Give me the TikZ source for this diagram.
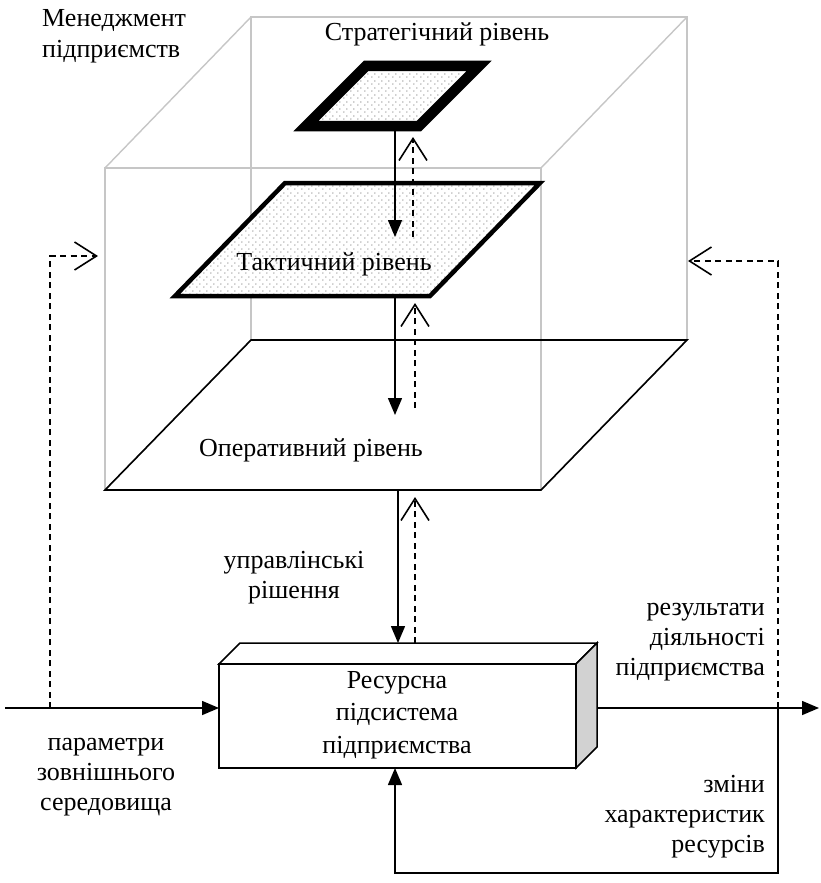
\documentclass[tikz,border=0pt]{standalone}
\usepackage{fontspec}
\setmainfont{Liberation Serif}
\usetikzlibrary{arrows.meta,patterns}
\pgfdeclarepatternformonly{refdots}{\pgfqpoint{0pt}{0pt}}{\pgfqpoint{7pt}{7pt}}{\pgfqpoint{7pt}{7pt}}{%
  \pgfpathcircle{\pgfqpoint{1pt}{1pt}}{0.85pt}%
  \pgfpathcircle{\pgfqpoint{4.5pt}{4.5pt}}{0.85pt}%
  \pgfusepath{fill}}
\begin{document}
\begin{tikzpicture}[x=1pt,y=-1pt,
  every node/.style={font=\fontsize{26}{30}\selectfont, inner sep=0pt},
  cube/.style={draw=gray!45, line width=1.4pt},
  dotted plane/.style={preaction={fill=white}, preaction={pattern=refdots, pattern color=gray!75}, draw},
  conn/.style={line width=1.5pt, -{Triangle[length=17pt,width=14pt]}},
  fb/.style={line width=1.4pt, dash pattern=on 6pt off 4.5pt, -{Straight Barb[length=22pt,width=28pt,line width=1.6pt]}},
  line/.style={line width=1.5pt}]
\useasboundingbox (0,0) rectangle (821,883);
% ---- cube (management)
\draw[cube] (251,17) rectangle (687,340);
\draw[cube] (105,168) rectangle (541,490);
\draw[cube] (105,168)--(251,17) (541,168)--(687,17) (105,490)--(251,340) (541,490)--(687,340);
% ---- operational plane
\draw[line width=1.6pt] (251,340)--(687,340)--(541,490)--(105,490)--cycle;
\draw[line width=2.8pt] (105,490)--(541,490);
% ---- tactical plane
\path[dotted plane, line width=4.5pt] (285,183)--(540,183)--(430,296)--(175,296)--cycle;
% ---- strategic plane
\path[dotted plane, line width=10.5pt] (366,66)--(479,66)--(419,126)--(306,126)--cycle;
% ---- texts
\node[anchor=base west, align=left] (mgmt) at (42,57) {Менеджмент\\підприємств};
\node[anchor=base] (strat) at (437,41) {Стратегічний рівень};
\node[anchor=base] (tact) at (334,270) {Тактичний рівень};
\node[anchor=base] (oper) at (311,456) {Оперативний рівень};
\node[anchor=base, align=center] (decis) at (294,598) {управлінські\\рішення};
\node[anchor=base, align=center] (param) at (106,810) {параметри\\зовнішнього\\середовища};
\node[anchor=base east, align=right] (resul) at (765,675) {результати\\діяльності\\підприємства};
\node[anchor=base east, align=right] (chng) at (765,852) {зміни\\характеристик\\ресурсів};
% ---- resource subsystem box
\draw[line width=1.5pt, fill=white] (219,664)--(240,643)--(597,643)--(576,664)--cycle;
\draw[line width=1.5pt, fill=gray!35] (576,664)--(597,643)--(597,747)--(576,768)--cycle;
\node[draw, line width=1.5pt, fill=white, minimum width=357pt, minimum height=104pt] (res) at (397.5,716) {};
\node[anchor=base, align=center, font=\fontsize{26}{32.5}\selectfont] (restext) at (397,753) {Ресурсна\\підсистема\\підприємства};
% ---- port coordinates
\coordinate (sB) at (395,131);
\coordinate (tT) at (395,237);
\coordinate (tTd) at (413,237);
\coordinate (sBd) at (413,137);
\coordinate (tB) at (395,298);
\coordinate (oT) at (395,415);
\coordinate (oTd) at (415,408);
\coordinate (tBd) at (415,303);
\coordinate (oB) at (398,491);
\coordinate (rT) at (398,643);
\coordinate (rTd) at (415,643);
\coordinate (oBd) at (415,497);
\coordinate (inS) at (5,708);
\coordinate (rW) at (219,708);
\coordinate (inJ) at (50,708);
\coordinate (inC) at (50,256);
\coordinate (cubeL) at (98,256);
\coordinate (rE) at (597,708);
\coordinate (outE) at (819,708);
\coordinate (outJ) at (778,708);
\coordinate (outC) at (778,261);
\coordinate (cubeR) at (688,261);
\coordinate (fbB) at (778,873);
\coordinate (fbL) at (395,873);
\coordinate (rB) at (395,768);
% ---- connectors
\draw[conn] (sB) -- (tT);
\draw[fb] (tTd) -- (sBd);
\draw[conn] (tB) -- (oT);
\draw[fb] (oTd) -- (tBd);
\draw[conn] (oB) -- (rT);
\draw[fb] (rTd) -- (oBd);
\draw[conn] (inS) -- (rW);
\draw[fb] (inJ) -- (inC) -- (cubeL);
\draw[conn] (rE) -- (outE);
\draw[fb] (outJ) -- (outC) -- (cubeR);
\draw[conn] (outJ) -- (fbB) -- (fbL) -- (rB);
\end{tikzpicture}
\end{document}
